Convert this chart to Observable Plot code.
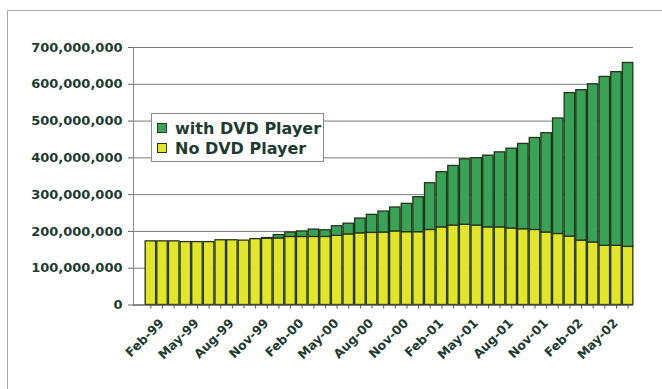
<!DOCTYPE html>
<html><head><meta charset="utf-8">
<script src="https://cdn.jsdelivr.net/npm/d3@7"></script>
<script src="https://cdn.jsdelivr.net/npm/@observablehq/plot@0.6"></script>
<style>
body{margin:0;background:#fff;}
#wrap{position:relative;width:662px;height:389px;overflow:hidden;background:#fff;}
#border{position:absolute;left:7px;top:10px;width:700px;height:400px;border-left:1.5px solid #a8a8a8;border-top:1.5px solid #a8a8a8;}
#chart{position:absolute;left:0;top:0;}
#legend{position:absolute;left:151px;top:113px;width:173px;height:49px;border:1px solid #8a8a8a;background:#fff;box-sizing:border-box;padding:4px 0 0 5px;font:bold 16px "DejaVu Sans";color:#1d3b30;}
.item{display:flex;align-items:center;height:20px;}
.sw{width:8px;height:8px;border:1px solid #2a3a20;margin-right:8px;}
</style></head>
<body>
<div id="wrap">
  <div id="border"></div>
  <div id="chart"></div>
  <div id="legend"></div>
</div>
<script>
const months = ["Feb-99","Mar-99","Apr-99","May-99","Jun-99","Jul-99","Aug-99","Sep-99","Oct-99","Nov-99","Dec-99",
  "Jan-00","Feb-00","Mar-00","Apr-00","May-00","Jun-00","Jul-00","Aug-00","Sep-00","Oct-00","Nov-00","Dec-00",
  "Jan-01","Feb-01","Mar-01","Apr-01","May-01","Jun-01","Jul-01","Aug-01","Sep-01","Oct-01","Nov-01","Dec-01",
  "Jan-02","Feb-02","Mar-02","Apr-02","May-02","Jun-02","Jul-02"];
const tickLabels = ["Feb-99","May-99","Aug-99","Nov-99","Feb-00","May-00","Aug-00","Nov-00","Feb-01","May-01","Aug-01","Nov-01","Feb-02","May-02"];
// millions of households
const noDVD = [173,173,173,171,171,171,176,176,175,179,180,181,185,185,185,185,188,192,195,196,197,200,198,198,204,211,216,218,216,211,211,208,206,204,197,193,186,175,170,161,161,158];
const withDVD = [0,0,0,0,0,0,0,0,0,0,2,9,12,15,20,18,26,29,40,49,57,65,77,95,127,150,162,178,183,195,204,217,232,250,270,314,390,409,430,459,472,500];
const series = ["No DVD Player","with DVD Player"];
const colors = ["#e2e629","#38a257"];
const yTicks = [0,100,200,300,400,500,600,700].map(d => d * 1e6);

const table = months.flatMap((m, i) => [
  {month: m, series: series[0], value: noDVD[i] * 1e6},
  {month: m, series: series[1], value: withDVD[i] * 1e6}
]);

const chart = Plot.plot({
  width: 662, height: 389,
  marginTop: 47, marginBottom: 84.5, marginLeft: 133, marginRight: 29,
  style: {background: "transparent", fontFamily: "DejaVu Sans"},
  x: {type: "band", domain: months, range: [144, 634], padding: 0.1, round: false, label: null},
  y: {domain: [0, 700e6], label: null},
  color: {domain: series, range: colors},
  marks: [
    Plot.gridY(yTicks, {stroke: "#7a7a7a", strokeOpacity: 1}),
    Plot.barY(table, {x: "month", y: "value", fill: "series", stroke: "#24331a", strokeWidth: 1.3, order: series}),
    Plot.frame({anchor: "left", stroke: "#8a8a8a"}),
    Plot.ruleY([0], {stroke: "#555"}),
    Plot.axisY(yTicks, {tickFormat: d3.format(","), tickSize: 5, tickPadding: 6, fontSize: 13, fontWeight: "bold", fill: "#1d3b30", stroke: "#666", label: null}),
    Plot.axisX(months, {tickSize: 4, tickFormat: () => "", stroke: "#555", label: null}),
    Plot.axisX(tickLabels, {tickSize: 0, tickRotate: -45, tickPadding: 16, dx: 11, fontSize: 12.5, fontWeight: "bold", fill: "#1d3b30", label: null})
  ]
});
document.getElementById("chart").appendChild(chart);

const legend = document.getElementById("legend");
[series[1], series[0]].forEach(s => {
  const row = document.createElement("div");
  row.className = "item";
  const sw = document.createElement("span");
  sw.className = "sw";
  sw.style.background = colors[series.indexOf(s)];
  const t = document.createElement("span");
  t.textContent = s;
  row.appendChild(sw); row.appendChild(t);
  legend.appendChild(row);
});
</script>
</body></html>
